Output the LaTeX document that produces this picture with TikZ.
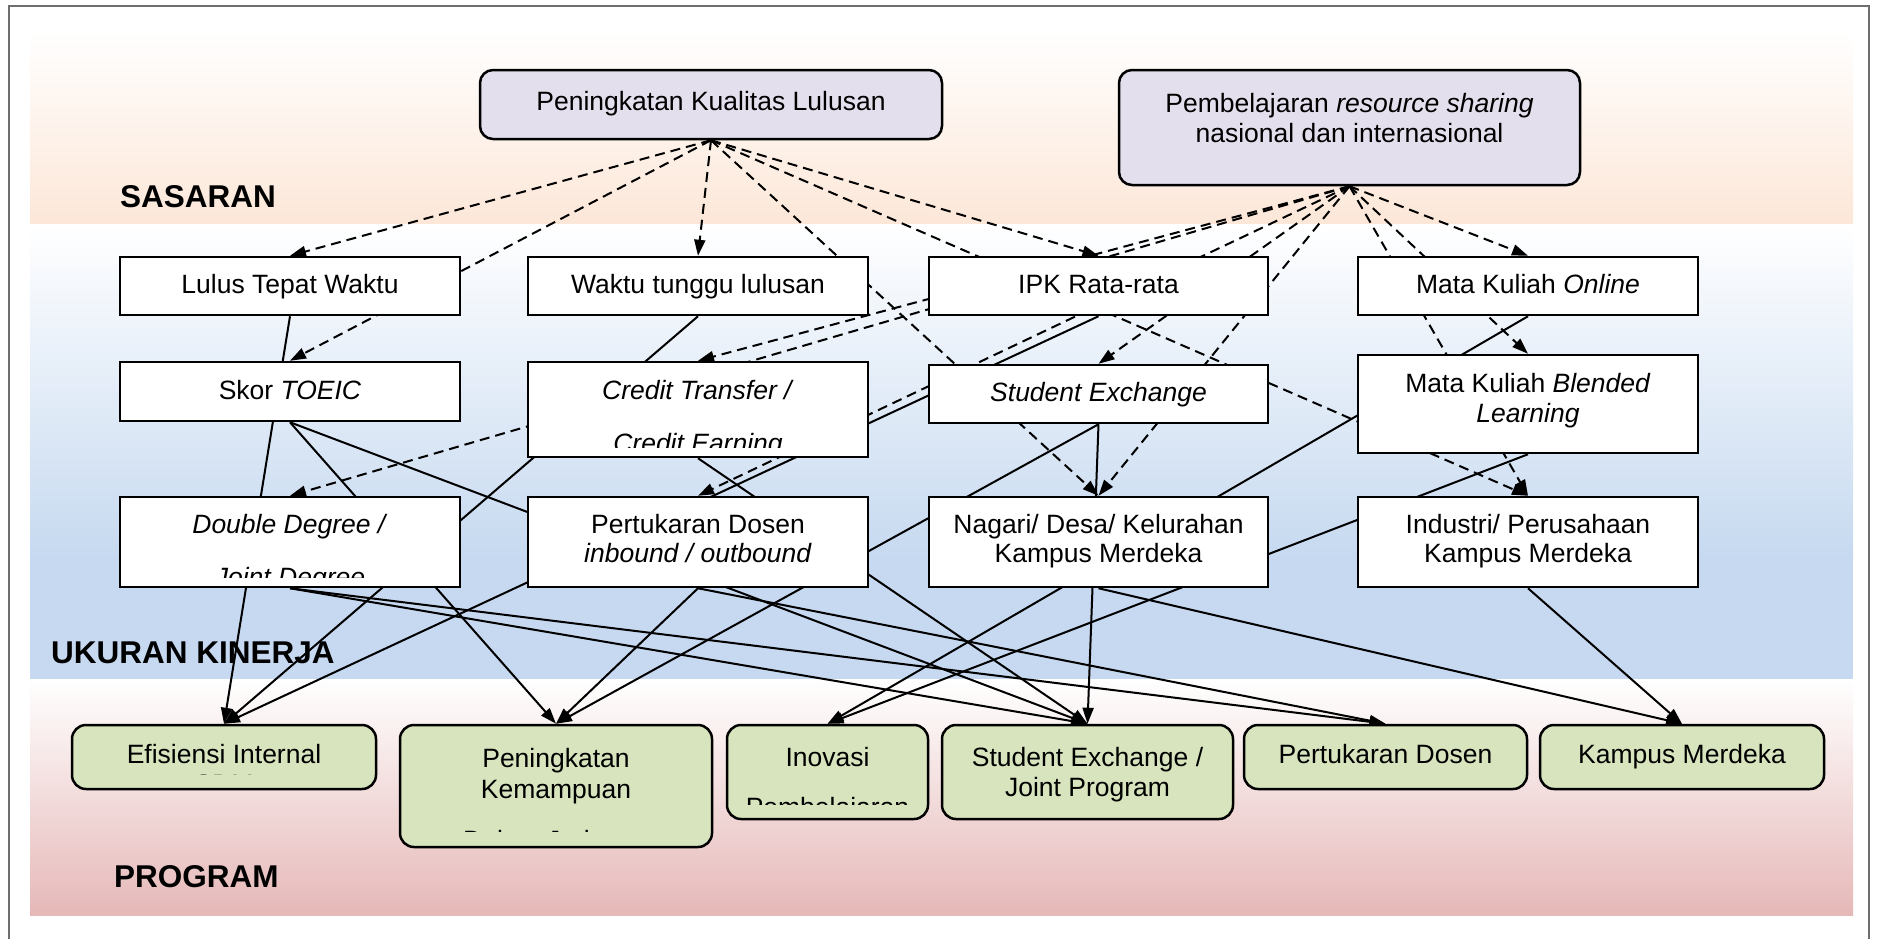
\documentclass[tikz,border=0pt]{standalone}
\usepackage{fontspec}
\setmainfont{Liberation Sans}
\usetikzlibrary{arrows.meta}
\pgfdeclarelayer{bg}
\pgfdeclarelayer{lines}
\pgfsetlayers{bg,lines,main}
\definecolor{peach}{RGB}{252,231,216}
\definecolor{bandblue}{RGB}{198,217,240}
\definecolor{bandpink}{RGB}{230,184,184}
\definecolor{lav}{RGB}{228,223,236}
\definecolor{grn}{RGB}{215,228,189}
\definecolor{framegray}{RGB}{110,110,110}
\begin{document}
\begin{tikzpicture}[x=1pt,y=-1pt,
  every node/.style={font=\fontsize{26.5}{31}\selectfont, inner sep=0pt},
  kbox/.style={draw, line width=2.5pt, fill=white, minimum width=340pt},
  sbox/.style={draw, line width=2.5pt, fill=lav, rounded corners=13pt},
  pbox/.style={draw, line width=2.5pt, fill=grn, rounded corners=14pt},
  txt/.style={anchor=base},
  lbl/.style={anchor=base west, font=\fontsize{31.5}{36}\selectfont\bfseries},
  dsh/.style={line width=2pt, dash pattern=on 10pt off 6pt, -{Triangle[length=16pt,width=11pt]}},
  sol/.style={line width=2pt, -{Triangle[length=16pt,width=11pt]}},
]
\useasboundingbox (0,0) rectangle (1877,938);

% ---------- background bands ----------
\begin{pgfonlayer}{bg}
  \fill[top color=white, bottom color=peach] (30,30) rectangle (1853,224);
  \fill[top color=white, bottom color=bandblue] (30,224) rectangle (1853,560);
  \fill[bandblue] (30,560) rectangle (1853,679);
  \fill[top color=white, bottom color=bandpink] (30,679) rectangle (1853,915);
  \draw[framegray, line width=1.5pt] (9,960) -- (9,6) -- (1869,6) -- (1869,960);
  \node[lbl] (lsas) at (120,207) {SASARAN};
  \node[lbl] (lukr) at (51,663) {UKURAN KINERJA};
  \node[lbl] (lprg) at (114,887) {PROGRAM};
\end{pgfonlayer}

% ---------- SASARAN ----------
\node[sbox, minimum width=462pt, minimum height=69pt] (pkl) at (711,104.5) {};
\node[txt] (pklt) at (711,110) {Peningkatan Kualitas Lulusan};
\node[sbox, minimum width=461pt, minimum height=115pt] (prs) at (1349.5,127.5) {};
\node[txt] (prst1) at (1349.5,112) {Pembelajaran \textit{resource sharing}};
\node[txt] (prst2) at (1349.5,142) {nasional dan internasional};

% ---------- UKURAN KINERJA row 1 ----------
\node[kbox, minimum height=58pt] (ltw) at (290,286) {};
\node[txt] (ltwt) at (290,293) {Lulus Tepat Waktu};
\node[kbox, minimum height=58pt] (wtl) at (698,286) {};
\node[txt] (wtlt) at (698,293) {Waktu tunggu lulusan};
\node[kbox, minimum width=339pt, minimum height=58pt] (ipk) at (1098.5,286) {};
\node[txt] (ipkt) at (1098.5,293) {IPK Rata-rata};
\node[kbox, minimum height=58pt] (mko) at (1528,286) {};
\node[txt] (mkot) at (1528,293) {Mata Kuliah \textit{Online}};

% ---------- row 2 ----------
\node[kbox, minimum height=59pt] (toeic) at (290,391.5) {};
\node[txt] (toeict) at (290,399) {Skor \textit{TOEIC}};
\node[kbox, minimum height=95pt] (ct) at (698,409.5) {};
\node[txt] (ctt1) at (698,399) {\textit{Credit Transfer /}};
\begin{scope}
  \clip (530,364) rectangle (866,447);
  \node[txt] (ctt2) at (698,452) {\textit{Credit Earning}};
\end{scope}
\node[kbox, minimum width=339pt, minimum height=58pt] (se) at (1098.5,394) {};
\node[txt] (set) at (1098.5,401) {\textit{Student Exchange}};
\node[kbox, minimum height=98pt] (bl) at (1528,404) {};
\node[txt] (blt1) at (1528,392) {Mata Kuliah \textit{Blended}};
\node[txt] (blt2) at (1528,422) {\textit{Learning}};

% ---------- row 3 ----------
\node[kbox, minimum height=90pt] (dd) at (290,542) {};
\node[txt] (ddt1) at (290,533) {\textit{Double Degree /}};
\begin{scope}
  \clip (122,499) rectangle (458,577);
  \node[txt] (ddt2) at (290,586) {\textit{Joint Degree}};
\end{scope}
\node[kbox, minimum height=90pt] (pdi) at (698,542) {};
\node[txt] (pdit1) at (698,533) {Pertukaran Dosen};
\node[txt] (pdit2) at (698,562) {\textit{inbound / outbound}};
\node[kbox, minimum width=339pt, minimum height=90pt] (nag) at (1098.5,542) {};
\node[txt] (nagt1) at (1098.5,533) {Nagari/ Desa/ Kelurahan};
\node[txt] (nagt2) at (1098.5,562) {Kampus Merdeka};
\node[kbox, minimum height=90pt] (ind) at (1528,542) {};
\node[txt] (indt1) at (1528,533) {Industri/ Perusahaan};
\node[txt] (indt2) at (1528,562) {Kampus Merdeka};

% ---------- PROGRAM ----------
\node[pbox, minimum width=304pt, minimum height=64pt] (efi) at (224,757) {};
\node[txt] (efit1) at (224,763) {Efisiensi Internal};
\begin{scope}
  \clip (80,740) rectangle (370,774.5);
  \node[txt] (efit2) at (224,793) {SDM};
\end{scope}
\node[pbox, minimum width=312pt, minimum height=122pt] (pk) at (556,786) {};
\node[txt] (pkt1) at (556,767) {Peningkatan};
\node[txt] (pkt2) at (556,798) {Kemampuan};
\begin{scope}
  \clip (410,805) rectangle (702,831);
  \node[txt] (pkt3) at (556,849) {Dalam Jaringan};
\end{scope}
\node[pbox, minimum width=201pt, minimum height=94pt] (ino) at (827.5,772) {};
\node[txt] (inot1) at (827.5,766) {Inovasi};
\begin{scope}
  \clip (735,780) rectangle (920,804);
  \node[txt] (inot2) at (827.5,816) {Pembelajaran};
\end{scope}
\node[pbox, minimum width=291pt, minimum height=94pt] (sejp) at (1087.5,772) {};
\node[txt] (sejpt1) at (1087.5,766) {Student Exchange /};
\node[txt] (sejpt2) at (1087.5,796) {Joint Program};
\node[pbox, minimum width=283pt, minimum height=64pt] (pdp) at (1385.5,757) {};
\node[txt] (pdpt) at (1385.5,763) {Pertukaran Dosen};
\node[pbox, minimum width=284pt, minimum height=64pt] (km) at (1682,757) {};
\node[txt] (kmt) at (1682,763) {Kampus Merdeka};

% ---------- connectors ----------
\begin{pgfonlayer}{lines}
  \foreach \t in {ltw,toeic,wtl,ipk,nag,ind}
    \draw[dsh] (pkl.south) -- (\t.north);
  \foreach \t in {ct,dd,pdi,se,nag,ind,bl,mko}
    \draw[dsh] (prs.south) -- (\t.north);
  \draw[sol] (ltw.south) -- (efi.north);
  \draw[sol] (wtl.south) -- (efi.north);
  \draw[sol] (ipk.south) -- (efi.north);
  \draw[sol] (toeic.south) -- (pk.north);
  \draw[sol] (pdi.south) -- (pk.north);
  \draw[sol] (se.south) -- (pk.north);
  \draw[sol] (toeic.south) -- (sejp.north);
  \draw[sol] (ct.south) -- (sejp.north);
  \draw[sol] (dd.south) -- (sejp.north);
  \draw[sol] (se.south) -- (sejp.north);
  \draw[sol] (dd.south) -- (pdp.north);
  \draw[sol] (pdi.south) -- (pdp.north);
  \draw[sol] (nag.south) -- (km.north);
  \draw[sol] (ind.south) -- (km.north);
  \draw[sol] (mko.south) -- (ino.north);
  \draw[sol] (bl.south) -- (ino.north);
\end{pgfonlayer}
\end{tikzpicture}
\end{document}
